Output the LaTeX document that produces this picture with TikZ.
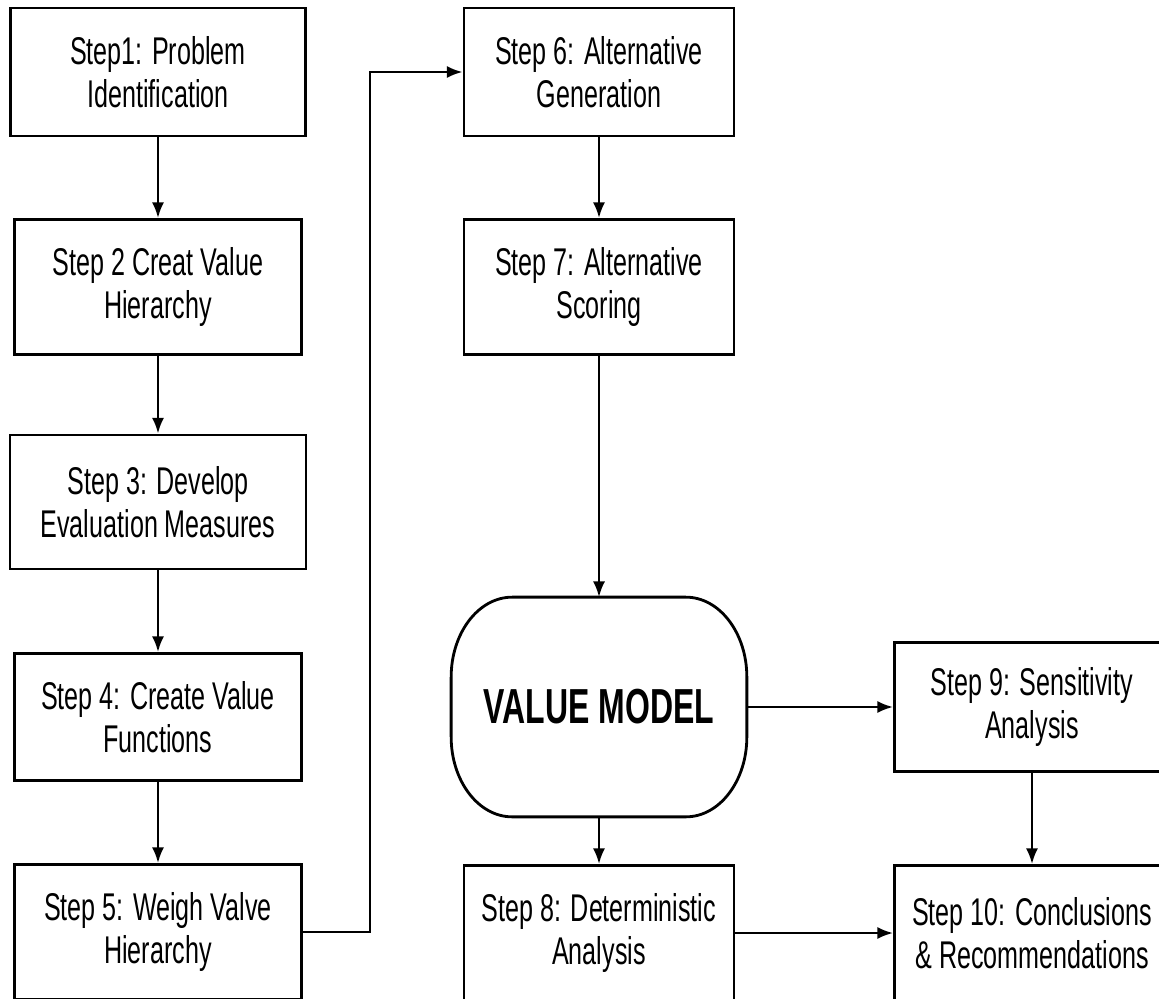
\documentclass[tikz,border=0pt]{standalone}
\usepackage{fontspec}
\setmainfont{Liberation Sans}[FakeStretch=0.65]
\usepackage{tikz}
\usetikzlibrary{arrows.meta}
\tikzstyle{stage} = [rectangle,
minimum width=5.74cm,
minimum height=2.7cm,
text centered,
align=center,
draw=black,
line width=1.6pt,
font=\fontsize{22}{24.5}\selectfont]
\tikzstyle{model} = [rectangle,
minimum width=5.9cm,
minimum height=4.38cm,
text centered,
font=\bfseries\fontsize{28}{30}\selectfont]
\tikzstyle{arrow} = [line width=1.5pt,-{Latex[length=9pt,width=7pt]}]

\begin{document}
\begin{tikzpicture}[node distance=4.3cm]

\useasboundingbox (0,0) rectangle (23.18,-19.98);
\clip (0,0) rectangle (23.18,-19.98);
\fill[white] (0,0) rectangle (23.18,-19.98);

% left column
\node (step1) [stage, minimum width=5.9cm, minimum height=2.56cm] at (3.16,-1.44) {Step1: Problem\\Identification};
\node (step2) [stage, below of=step1] {Step 2 Creat Value\\Hierarchy};
\node (step3) [stage, below of=step2, minimum width=5.92cm, minimum height=2.68cm] {Step 3: Develop\\Evaluation Measures};
\node (step4) [stage, below of=step3, minimum height=2.54cm] {Step 4: Create Value\\Functions};
\node (step5) [stage, below of=step4] {Step 5: Weigh Valve\\Hierarchy};
\draw[arrow] (step1) -- (step2);
\draw[arrow] (step2) -- (step3);
\draw[arrow] (step3) -- (step4);
\draw[arrow] (step4) -- (step5);

% middle column
\node (step6) [stage, minimum width=5.4cm, minimum height=2.56cm] at (11.98,-1.44) {Step 6: Alternative\\Generation};
\node (step7) [stage, below of=step6, minimum width=5.4cm] {Step 7: Alternative\\Scoring};
\node (model) [model, node distance=8.4cm, below of=step7] {VALUE MODEL};
\draw[line width=1.6pt] ([xshift=1.22cm]model.north west) -- ([xshift=-1.22cm]model.north east)
  arc[start angle=90, end angle=0, x radius=1.22cm, y radius=1.6cm]
  -- ([yshift=1.6cm]model.south east)
  arc[start angle=0, end angle=-90, x radius=1.22cm, y radius=1.6cm]
  -- ([xshift=1.22cm]model.south west)
  arc[start angle=-90, end angle=-180, x radius=1.22cm, y radius=1.6cm]
  -- ([yshift=-1.6cm]model.north west)
  arc[start angle=180, end angle=90, x radius=1.22cm, y radius=1.6cm] -- cycle;
\node (step8) [stage, node distance=4.52cm, below of=model, minimum width=5.4cm] {Step 8: Deterministic\\Analysis};
\node[coordinate] (bend) at (7.4,-1.44) {};
\draw[arrow] (step5) -| (bend) -- (step6);
\draw[arrow] (step6) -- (step7);
\draw[arrow] (step7) -- (model);
\draw[arrow] (model) -- (step8);

% right column
\node (step9) [stage, node distance=8.66cm, right of=model, minimum width=5.5cm, minimum height=2.58cm] {Step 9: Sensitivity\\Analysis};
\node (step10) [stage, node distance=4.52cm, below of=step9, minimum width=5.5cm] {Step 10: Conclusions\\\& Recommendations};
\draw[arrow] (model) -- (step9);
\draw[arrow] (step9) -- (step10);
\draw[arrow] (step8) -- (step10);

\end{tikzpicture}
\end{document}
